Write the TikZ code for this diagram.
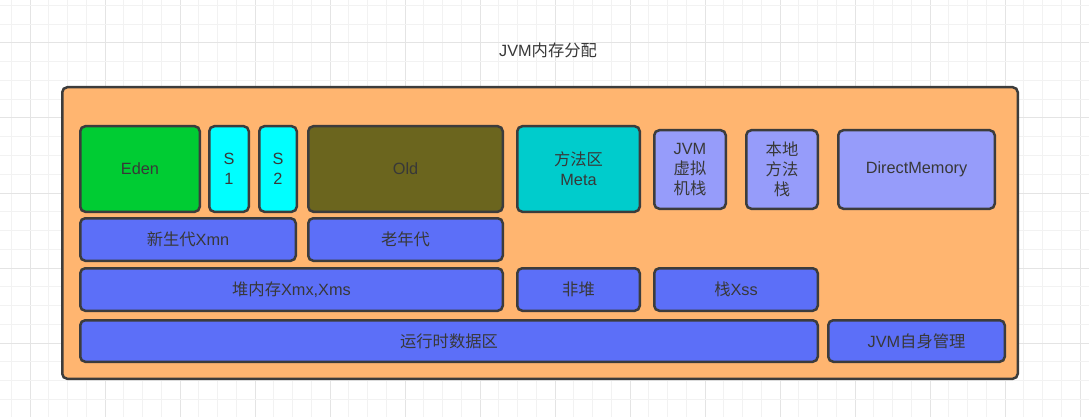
\documentclass[tikz,border=0pt]{standalone}
\usepackage{fontspec}
\setmainfont{Liberation Sans}
\newfontfamily\cjk{Noto Sans CJK SC}
\newcommand{\zh}[1]{{\cjk #1}}
\definecolor{orangec}{HTML}{FFB570}
\definecolor{greenc}{HTML}{00CC33}
\definecolor{cyanc}{HTML}{00FFFF}
\definecolor{olivec}{RGB}{107,101,30}
\definecolor{metac}{HTML}{00CCCC}
\definecolor{lilac}{RGB}{150,156,250}
\definecolor{bluec}{RGB}{92,111,248}
\definecolor{strokec}{HTML}{3C3C3C}
\definecolor{textc}{HTML}{383838}
\definecolor{gridminor}{HTML}{F2F2F2}
\definecolor{gridmajor}{HTML}{E4E4E4}
\tikzset{
  box/.style={draw=strokec, line width=2.5pt, rounded corners=5pt, inner sep=0pt,
    text=textc, font=\fontsize{16.3}{20}\selectfont, align=center},
  titletext/.style={text=textc, font=\fontsize{16.3}{20}\selectfont, inner sep=0pt}
}
\begin{document}
\begin{tikzpicture}[x=1pt,y=-1pt]
\useasboundingbox (0,0) rectangle (1089,417);
\fill[white] (0,0) rectangle (1089,417);
% grid
\foreach \i in {0,...,57}{
  \pgfmathsetmacro\gx{11.25+18.75*\i}
  \pgfmathtruncatemacro\m{mod(\i+3,4)}
  \ifnum\m=0
    \draw[gridmajor, line width=1pt] (\gx,0) -- (\gx,417);
  \else
    \draw[gridminor, line width=1pt] (\gx,0) -- (\gx,417);
  \fi
}
\foreach \j in {0,...,22}{
  \pgfmathsetmacro\gy{5.5+18.75*\j}
  \pgfmathtruncatemacro\m{mod(\j+2,4)}
  \ifnum\m=0
    \draw[gridmajor, line width=1pt] (0,\gy) -- (1089,\gy);
  \else
    \draw[gridminor, line width=1pt] (0,\gy) -- (1089,\gy);
  \fi
}
% title
\node[titletext] (title) at (548,50) {JVM\zh{内存分配}};
% container
\node[box, fill=orangec, minimum width=955.5pt, minimum height=291.5pt] (mem) at (540,233) {};
% top row
\node[box, fill=greenc, minimum width=119.5pt, minimum height=85.5pt] (eden) at (140,169) {Eden};
\node[box, fill=cyanc, minimum width=39.5pt, minimum height=85.5pt] (s1) at (229,169) {S\\1};
\node[box, fill=cyanc, minimum width=37.5pt, minimum height=85.5pt] (s2) at (278,169) {S\\2};
\node[box, fill=olivec, minimum width=194.5pt, minimum height=85.5pt] (old) at (405.5,169) {Old};
\node[box, fill=metac, minimum width=122.5pt, minimum height=85.5pt] (meta) at (578.5,169) {\zh{方法区}\\Meta};
\node[box, fill=lilac, minimum width=71.5pt, minimum height=78.5pt] (jvms) at (690,169.5) {JVM\\\zh{虚拟}\\\zh{机栈}};
\node[box, fill=lilac, minimum width=71.5pt, minimum height=78.5pt] (nms) at (782,169.5) {\zh{本地}\\\zh{方法}\\\zh{栈}};
\node[box, fill=lilac, minimum width=156.5pt, minimum height=78.5pt] (dm) at (916.5,169.5) {DirectMemory};
% second row
\node[box, fill=bluec, minimum width=215.5pt, minimum height=42.5pt] (young) at (188,239.5) {\zh{新生代}Xmn};
\node[box, fill=bluec, minimum width=194.5pt, minimum height=42.5pt] (tenured) at (405.5,239.5) {\zh{老年代}};
% third row
\node[box, fill=bluec, minimum width=422.5pt, minimum height=42.5pt] (heap) at (291.5,289.5) {\zh{堆内存}Xmx,Xms};
\node[box, fill=bluec, minimum width=122.5pt, minimum height=42.5pt] (nonheap) at (578.5,289.5) {\zh{非堆}};
\node[box, fill=bluec, minimum width=163.5pt, minimum height=42.5pt] (xss) at (736,289.5) {\zh{栈}Xss};
% fourth row
\node[box, fill=bluec, minimum width=737.5pt, minimum height=41.5pt] (rt) at (449,341) {\zh{运行时数据区}};
\node[box, fill=bluec, minimum width=176.5pt, minimum height=41.5pt] (self) at (916.5,341) {JVM\zh{自身管理}};
\end{tikzpicture}
\end{document}
